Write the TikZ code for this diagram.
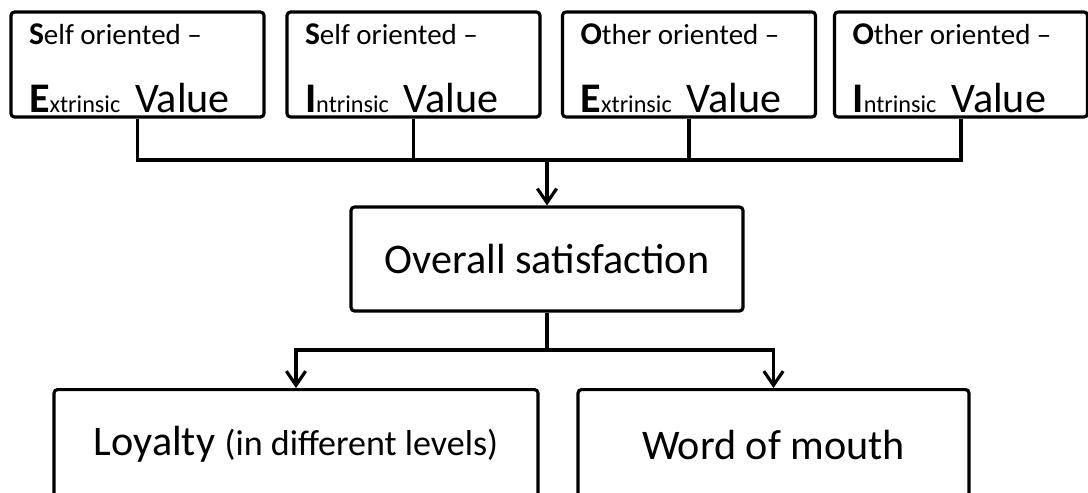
\documentclass[tikz,border=0pt]{standalone}
\usepackage{fontspec}
\setmainfont{Carlito}
\usetikzlibrary{arrows.meta}

% first line and second line of a value box
\newcommand{\valuehead}[2]{\rule{0pt}{16pt}{\fontsize{18}{20}\selectfont\bfseries #1}{\fontsize{16.5}{20}\selectfont #2}}
\newcommand{\valuetail}[2]{{\bfseries #1}{\fontsize{13.8}{20}\selectfont #2}\hspace{0.3cm}Value}

\begin{document}
\begin{tikzpicture}[line width=1.8pt,
    valuebox/.style={draw, rounded corners=2pt, minimum width=5.06cm, minimum height=2.1cm,
        text width=4.34cm, inner xsep=0.36cm, inner ysep=0pt, align=flush left,
        font=\fontsize{24}{38.5}\selectfont},
    midbox/.style={draw, rounded corners=2pt, minimum width=7.84cm, minimum height=2.08cm,
        font=\fontsize{24}{28}\selectfont},
    endbox/.style={draw, rounded corners=2pt, anchor=north, minimum height=2.2cm,
        font=\fontsize{24}{28}\selectfont},
    link/.style={-{Straight Barb[length=8pt,width=11pt]}}]
    \useasboundingbox (0,0) rectangle (21.76,-9.84);
    % value boxes
    \node[valuebox] (se) at (2.75,-1.29) {\valuehead{S}{elf oriented –}\\\valuetail{E}{xtrinsic}};
    \node[valuebox] (si) at (8.27,-1.29) {\valuehead{S}{elf oriented –}\\\valuetail{I}{ntrinsic}};
    \node[valuebox] (oe) at (13.78,-1.29) {\valuehead{O}{ther oriented –}\\\valuetail{E}{xtrinsic}};
    \node[valuebox] (oi) at (19.22,-1.29) {\valuehead{O}{ther oriented –}\\\valuetail{I}{ntrinsic}};
    % satisfaction
    \node[midbox] (sat) at (10.94,-5.18) {Overall satisfaction};
    % outcomes
    \node[endbox, minimum width=9.68cm] (loy) at (5.92,-7.76) {Loyalty {\fontsize{20.5}{24}\selectfont(in different levels)}};
    \node[endbox, minimum width=7.82cm] (wom) at (15.47,-7.76) {Word of mouth};
    % connectors
    \coordinate (bus) at (0,-3.2);
    \coordinate (split) at (0,-7.0);
    \draw (se.south) |- (oi.south |- bus) -- (oi.south);
    \draw (si.south) -- (si.south |- bus);
    \draw (oe.south) -- (oe.south |- bus);
    \draw[link] (sat.north |- bus) -- (sat.north);
    \draw (sat.south) -- (sat.south |- split);
    \draw[link] (sat.south |- split) -| (loy.north);
    \draw[link] (sat.south |- split) -| (wom.north);
\end{tikzpicture}
\end{document}
